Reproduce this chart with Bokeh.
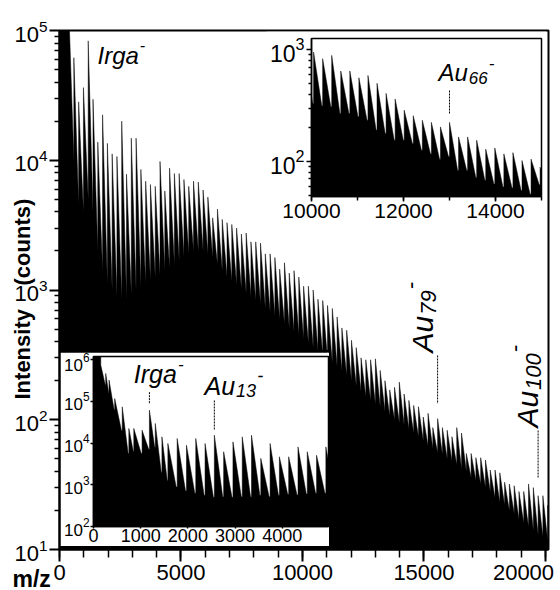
import math
from bokeh.plotting import figure
from bokeh.models import (Range1d, Label, FixedTicker, SingleIntervalTicker, LogTickFormatter)
from bokeh.embed import file_html
from bokeh.resources import INLINE

FONT = "Liberation Sans"
AU = 196.97  # Da per gold atom

# ---------------- main spectrum: one peak per Au_n cluster ----------------
main_sizes = list(range(1, 103))
main_start = 400000          # off-scale signal at the very low m/z end
main_peaks = [400000, 126000, 61700, 28200, 36300, 83200, 29500, 13800, 22400, 13500,
              11200, 10700, 20000, 7800, 14800, 14800, 8500, 6900, 6500, 6300,
              9800, 5800, 8700, 7900, 7900, 7100, 6300, 6900, 6800, 5900,
              5200, 3600, 4200, 3500, 3300, 3200, 3000, 2700, 2750, 2350,
              2350, 2300, 1900, 1900, 1780, 1450, 1620, 1350, 1410, 1260,
              1070, 1070, 1000, 850, 830, 760, 720, 620, 510, 490,
              410, 360, 300, 290, 290, 295, 240, 200, 170, 178,
              195, 158, 141, 129, 126, 105, 112, 87, 102, 87,
              83, 74, 87, 79, 55, 55, 51, 51, 49, 41,
              41, 39, 33, 32, 31, 28, 28, 32, 30, 26,
              26, 22]
main_valleys = [200000, 10000, 4500, 4000, 5000, 4000, 2000, 1400, 1120, 1000,
                890, 850, 850, 930, 1000, 1070, 1120, 1200, 1260, 1320,
                1410, 1480, 1580, 1700, 1820, 1900, 2000, 2000, 2000, 1900,
                1780, 1580, 1410, 1260, 1170, 1100, 1020, 950, 890, 830,
                780, 720, 680, 630, 590, 550, 510, 480, 450, 420,
                390, 360, 340, 316, 295, 275, 257, 240, 219, 200,
                182, 166, 151, 141, 132, 126, 117, 107, 100, 95,
                91, 85, 79, 74, 69, 63, 60, 56, 54, 50,
                48, 45, 42, 40, 36, 34, 32, 30, 28, 25,
                23, 22, 20, 19, 17, 16, 15, 14, 13, 12.6,
                11.7, 11.2]

# ---------------- lower-left inset: m/z 0 - 5000 ----------------
low_start = 3000000
low_mass = [154, 259, 329, 449, 609, 749, 854, 1029, 1185, 1309, 1450] + [round(n * AU) for n in range(8, 26)]
low_peaks = [740000, 468000, 324000, 117000, 74000, 22400, 22400, 20400, 61700, 29500, 14100,
             9800, 12900, 8900, 12900, 9800, 15500, 6200, 10700, 14100, 15500, 4300, 9800,
             4700, 4700, 8100, 6200, 5100, 8100]
low_valleys = [250000, 160000, 63000, 20000, 5600, 6300, 5600, 7100, 7900, 2000, 1260,
               890, 710, 630, 560, 500, 520, 500, 520, 520, 560, 520, 560,
               590, 570, 600, 630, 630, 660]

# ---------------- upper-right inset: m/z 10000 - 15000 ----------------
high_start = 330
high_sizes = list(range(50, 78))
high_peaks = [1000, 955, 832, 891, 646, 646, 562, 589, 501, 407, 363, 288, 257, 234,
              224, 204, 224, 166, 166, 155, 129, 132, 117, 120, 102, 105, 89, 89]
high_valleys = [330, 316, 309, 269, 269, 251, 234, 191, 178, 155, 155, 145, 126, 117,
                105, 110, 83, 83, 72, 68, 63, 59, 58, 55, 51, 62, 52, 50]

# tick values
main_y_ticks = [10, 100, 1000, 10000, 100000]
low_y_ticks = [100, 1000, 10000, 100000, 1000000]
high_y_ticks = [100, 1000]

IRGA = 1185


def log_minor(lo, hi):
    return [k * 10 ** e for e in range(lo, hi + 1) for k in range(2, 10)]


def sawtooth(x0, start, masses, peaks, valleys, x_end, floor, frac):
    xs, ys = [x0, x0], [floor, start]
    prev = start
    for i, m in enumerate(masses):
        step = (masses[i + 1] - m) if i + 1 < len(masses) else (m - masses[i - 1])
        xs += [m, m, m + frac * step]
        ys += [prev, peaks[i], valleys[i]]
        prev = valleys[i]
    xs += [x_end, x_end]
    ys += [prev, floor]
    return xs, ys


def style_axes(fig, xsize, ysize, xt, xmt, yt, ymt, xs, ys, lw=2):
    for ax in list(fig.xaxis) + list(fig.yaxis):
        ax.axis_line_width = lw
        ax.axis_line_color = "black"
        ax.major_tick_line_width = lw
        ax.minor_tick_line_width = 1.5
        ax.major_tick_line_color = "black"
        ax.minor_tick_line_color = "black"
        ax.major_tick_in = 0
        ax.minor_tick_in = 0
        ax.major_label_text_font = FONT
        ax.major_label_text_color = "black"
    for ax in fig.xaxis:
        ax.major_tick_out = xt
        ax.minor_tick_out = xmt
        ax.major_label_standoff = xs
        ax.major_label_text_font_size = xsize
    for ax in fig.yaxis:
        ax.major_tick_out = yt
        ax.minor_tick_out = ymt
        ax.major_label_standoff = ys
        ax.major_label_text_font_size = ysize
    fig.xgrid.visible = False
    fig.ygrid.visible = False
    fig.outline_line_color = "black"
    fig.outline_line_width = lw
    fig.outline_line_alpha = 1


GW = {"A": 0.667, "u": 0.556, "I": 0.278, "r": 0.333, "g": 0.556, "a": 0.556}


def chem_label(fig, x, y, base, sub, sup, size, angle=0.0, ratio=0.68):
    bw = sum(GW.get(c, 0.556) for c in base) * size
    ss = round(size * ratio)
    sw = len(sub) * 0.556 * ss
    parts = [(base, size, 0.0, 0.0)]
    if sub:
        parts.append((sub, ss, bw + 1, -0.2 * size))
    if sup:
        parts.append((sup, ss, bw + (sw + 2 if sub else 1), 0.42 * size))
    for text, fs, along, across in parts:
        if angle == 0:
            xo, yo = along, across
        else:
            xo, yo = -across, along
        fig.add_layout(Label(x=x, y=y, text=text, x_offset=xo, y_offset=yo, angle=angle,
                             text_font=FONT, text_font_style="italic",
                             text_font_size=f"{fs}px", text_color="black",
                             text_baseline="alphabetic", text_align="left"))


# ================= main figure =================
p = figure(width=560, height=590, x_range=Range1d(0, 20125), y_range=Range1d(10, 1e5),
           y_axis_type="log", output_backend="svg", toolbar_location=None,
           min_border_left=59, min_border_right=12, min_border_top=30, min_border_bottom=41,
           background_fill_color="white", border_fill_color="white")
mx, my = sawtooth(0, main_start, [n * AU for n in main_sizes], main_peaks, main_valleys,
                  20125, 1, 1.0)
p.patch(mx, my, fill_color="black", line_color="black", line_width=0.5)
p.xaxis.ticker = SingleIntervalTicker(interval=5000, num_minor_ticks=5)
p.xaxis.major_label_overrides = {20000: ""}
p.yaxis.ticker = FixedTicker(ticks=main_y_ticks, minor_ticks=log_minor(1, 4))
p.yaxis.formatter = LogTickFormatter()
style_axes(p, "22px", "22px", 12, 8, 10, 5, 3, 2)
chem_label(p, 1564, 64100, "Irga", "", "-", 24)
chem_label(p, 14950, 330, "Au", "79", "-", 30, angle=math.pi / 2, ratio=0.72)
chem_label(p, 19250, 87, "Au", "100", "-", 30, angle=math.pi / 2, ratio=0.72)
p.segment(x0=[79 * AU, 100 * AU], y0=[313, 82.6], x1=[79 * AU, 100 * AU], y1=[133, 35.9],
          line_color="black", line_width=1, line_dash="2 1")

# ================= upper-right inset =================
ins1 = figure(width=280, height=197, x_range=Range1d(10000, 15000), y_range=Range1d(48.6, 1262),
              y_axis_type="log", output_backend="svg", toolbar_location=None,
              min_border_left=45, min_border_right=5, min_border_top=7, min_border_bottom=32,
              background_fill_color="white", border_fill_color="white",
              styles={"position": "absolute", "left": "266px", "top": "31px"})
hx, hy = sawtooth(9700, high_start, [n * AU for n in high_sizes], high_peaks, high_valleys,
                  15300, 10, 0.9)
ins1.patch(hx, hy, fill_color="black", line_color="black", line_width=0.5)
ins1.xaxis.ticker = SingleIntervalTicker(interval=2000, num_minor_ticks=2)
ins1.yaxis.ticker = FixedTicker(ticks=high_y_ticks, minor_ticks=log_minor(1, 3))
ins1.yaxis.formatter = LogTickFormatter()
style_axes(ins1, "21px", "23px", 5, 4, 5, 3, 2, 2, lw=1.5)
chem_label(ins1, 12761, 620, "Au", "66", "-", 24, ratio=0.72)
ins1.segment(x0=[66 * AU], y0=[432], x1=[66 * AU], y1=[269], line_color="black",
             line_width=1, line_dash="2 1")

# ================= lower-left inset =================
ins2 = figure(width=271, height=196, x_range=Range1d(0, 4980), y_range=Range1d(100, 1.19e6),
              y_axis_type="log", output_backend="svg", toolbar_location=None,
              min_border_left=31, min_border_right=3, min_border_top=4, min_border_bottom=22,
              background_fill_color="white", border_fill_color="white",
              styles={"position": "absolute", "left": "60px", "top": "350px",
                      "border-top": "2px solid black", "border-right": "2px solid black"})
lx, ly = sawtooth(0, low_start, low_mass, low_peaks, low_valleys, 4980, 10, 0.9)
ins2.patch(lx, ly, fill_color="black", line_color="black", line_width=0.5)
ins2.xaxis.ticker = SingleIntervalTicker(interval=1000, num_minor_ticks=0)
ins2.yaxis.ticker = FixedTicker(ticks=low_y_ticks, minor_ticks=[])
ins2.yaxis.formatter = LogTickFormatter()
style_axes(ins2, "18px", "17px", 2, 0, 3, 0, 0, 1, lw=1.5)
chem_label(ins2, 855, 441000, "Irga", "", "-", 25)
chem_label(ins2, 2353, 234000, "Au", "13", "-", 25, ratio=0.72)
ins2.segment(x0=[IRGA, 13 * AU], y0=[166000, 105000], x1=[IRGA, 13 * AU], y1=[87500, 20000],
             line_color="black", line_width=1, line_dash="2 1")

# ================= transparent overlay for texts outside the plot areas =================
ov = figure(width=560, height=590, x_range=Range1d(0, 560), y_range=Range1d(590, 0),
            title=None, output_backend="svg", toolbar_location=None, min_border=0,
            x_axis_location=None, y_axis_location=None,
            background_fill_alpha=0, border_fill_alpha=0,
            styles={"position": "absolute", "left": "0px", "top": "0px"})
ov.outline_line_color = None
ov.xgrid.visible = False
ov.ygrid.visible = False
ov.add_layout(Label(x=523, y=564, text="20000", text_font=FONT, text_font_size="22px",
                    text_align="center", text_baseline="top", text_color="black"))
ov.add_layout(Label(x=12, y=578, text="m/z", text_font=FONT, text_font_size="23px",
                    text_font_style="bold", text_align="left", text_baseline="alphabetic",
                    text_color="black"))
ov.add_layout(Label(x=22, y=399, text="Intensity", text_font=FONT, text_font_size="22px",
                    text_font_style="bold", angle=math.pi / 2, text_align="left",
                    text_baseline="alphabetic", text_color="black"))
ov.add_layout(Label(x=22, y=285, text="(counts)", text_font=FONT, text_font_size="22px",
                    text_font_style="bold", angle=math.pi / 2, text_align="left",
                    text_baseline="alphabetic", text_color="black"))

open("out.html", "w").write(file_html([p, ins1, ins2, ov], INLINE))
